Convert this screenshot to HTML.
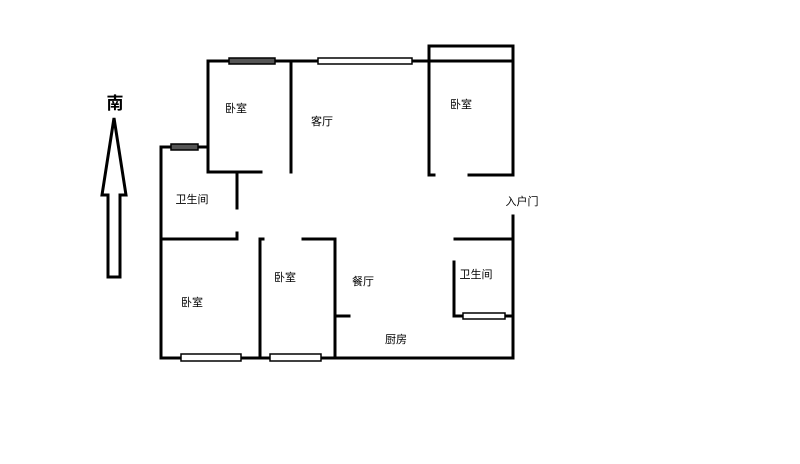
<!DOCTYPE html>
<html><head><meta charset="utf-8"><style>
html,body{margin:0;padding:0;background:#fff;}
svg{display:block;}
text{font-family:"Liberation Sans","Noto Sans CJK SC",sans-serif;font-size:11px;fill:#000;}
</style></head><body>
<svg width="800" height="464" viewBox="0 0 800 464">
<g stroke="#000" stroke-width="3" fill="none" stroke-linecap="square">
<!-- top -->
<line x1="208" y1="61" x2="513" y2="61"/>
<line x1="208" y1="61" x2="208" y2="172"/>
<line x1="208" y1="172" x2="261" y2="172"/>
<line x1="291" y1="61" x2="291" y2="172"/>
<line x1="237" y1="172" x2="237" y2="208"/>
<line x1="161" y1="147" x2="208" y2="147"/>
<line x1="161" y1="147" x2="161" y2="358"/>
<line x1="429" y1="46" x2="429" y2="175"/>
<line x1="429" y1="46" x2="513" y2="46"/>
<line x1="513" y1="46" x2="513" y2="175"/>
<line x1="429" y1="175" x2="434" y2="175"/>
<line x1="469" y1="175" x2="513" y2="175"/>
<line x1="513" y1="216" x2="513" y2="358"/>
<!-- middle -->
<line x1="161" y1="239" x2="237" y2="239"/>
<line x1="237" y1="233" x2="237" y2="239"/>
<line x1="260" y1="239" x2="260" y2="358"/>
<line x1="260" y1="239" x2="263" y2="239"/>
<line x1="303" y1="239" x2="335" y2="239"/>
<line x1="335" y1="239" x2="335" y2="358"/>
<line x1="335" y1="316" x2="349" y2="316"/>
<line x1="455" y1="239" x2="513" y2="239"/>
<line x1="454" y1="262" x2="454" y2="316"/>
<line x1="454" y1="316" x2="513" y2="316"/>
<line x1="161" y1="358" x2="513" y2="358"/>
</g>
<g stroke="#000" stroke-width="1.5">
<rect x="229" y="58" width="46" height="6" fill="#555"/>
<rect x="318" y="58" width="94" height="6" fill="#fff"/>
<rect x="171" y="144" width="27" height="6" fill="#555"/>
<rect x="181" y="354" width="60" height="7" fill="#fff"/>
<rect x="270" y="354" width="51" height="7" fill="#fff"/>
<rect x="463" y="313" width="42" height="6" fill="#fff"/>
</g>
<!-- arrow -->
<polygon points="114,118 126,195 120,195 120,277 108,277 108,195 102,195" fill="#fff" stroke="#000" stroke-width="3" stroke-linejoin="miter"/>
<text x="115" y="109" text-anchor="middle" style="font-size:17px;font-weight:bold">南</text>
<text x="236" y="112" text-anchor="middle">卧室</text>
<text x="322" y="125" text-anchor="middle">客厅</text>
<text x="461" y="108" text-anchor="middle">卧室</text>
<text x="192" y="203" text-anchor="middle">卫生间</text>
<text x="522" y="205" text-anchor="middle">入户门</text>
<text x="192" y="306" text-anchor="middle">卧室</text>
<text x="285" y="281" text-anchor="middle">卧室</text>
<text x="363" y="285" text-anchor="middle">餐厅</text>
<text x="476" y="278" text-anchor="middle">卫生间</text>
<text x="396" y="343" text-anchor="middle">厨房</text>
</svg>
</body></html>
